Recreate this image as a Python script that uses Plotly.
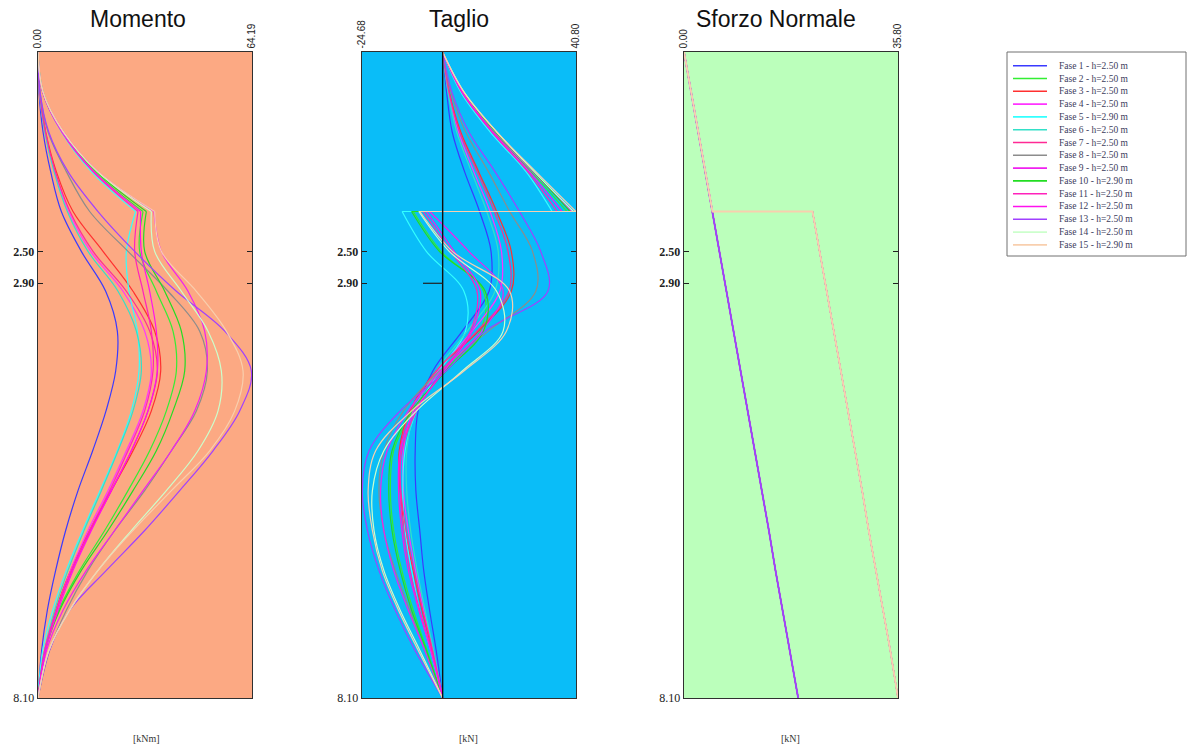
import plotly.graph_objects as go

# ---------------- data ----------------
profondita = [0, 0.5, 1.0, 1.5, 2.0, 2.0, 2.5, 3.0, 3.5, 4.0, 4.5, 5.0, 5.5, 6.0, 6.5, 7.0, 7.5, 8.1]

fasi = ["Fase 1 - h=2.50 m", "Fase 2 - h=2.50 m", "Fase 3 - h=2.50 m", "Fase 4 - h=2.50 m",
        "Fase 5 - h=2.90 m", "Fase 6 - h=2.50 m", "Fase 7 - h=2.50 m", "Fase 8 - h=2.50 m",
        "Fase 9 - h=2.50 m", "Fase 10 - h=2.90 m", "Fase 11 - h=2.50 m", "Fase 12 - h=2.50 m",
        "Fase 13 - h=2.50 m", "Fase 14 - h=2.50 m", "Fase 15 - h=2.90 m"]

colori = ["#3a3aff", "#33ee33", "#ff3030", "#ff33ff", "#33ffff", "#33e0c8", "#ff2a95", "#8c8c8c",
          "#f020f0", "#22dd22", "#ff22bb", "#ff11ee", "#a040ff", "#ccffcc", "#f8cfae"]

fasi_ancorate = [2, 5, 9, 10, 11, 12, 14, 15]

# Momento [kNm]
momento_f01 = [0, 0.3, 1.5, 3.8, 7.0, 7.0, 13.0, 20.3, 23.8, 23.3, 20.4, 16.4, 12.0, 8.3, 5.3, 2.8, 1.1, 0]
momento_f02 = [0, 1.4, 7.2, 17.0, 31.5, 31.5, 30.5, 35.5, 40.5, 41.5, 38.5, 33.5, 27.0, 20.0, 12.5, 6.2, 2.0, 0]
momento_f03 = [0, 0.5, 2.3, 5.5, 10.5, 10.5, 19.5, 28.5, 35.0, 36.8, 34.0, 28.5, 22.0, 15.5, 9.8, 5.3, 2.1, 0]
momento_f04 = [0, 0.4, 2.1, 5.0, 9.2, 9.2, 15.8, 25.5, 32.0, 34.0, 31.5, 26.5, 21.0, 15.0, 9.8, 5.5, 2.1, 0]
momento_f05 = [0, 1.4, 7.0, 16.0, 29.3, 29.3, 26.5, 27.3, 29.8, 30.3, 28.0, 23.8, 18.6, 13.4, 8.5, 4.4, 1.4, 0]
momento_f06 = [0, 0.4, 2.0, 4.8, 8.8, 8.8, 15.0, 24.0, 29.5, 31.0, 28.5, 24.0, 19.0, 13.8, 9.0, 5.0, 2.0, 0]
momento_f07 = [0, 0.45, 2.2, 5.2, 9.6, 9.6, 16.5, 26.5, 33.5, 35.8, 33.0, 28.0, 22.0, 15.8, 10.2, 5.6, 2.2, 0]
momento_f08 = [0, 0.6, 3.0, 8.5, 15.5, 15.5, 27.0, 39.0, 48.5, 50.8, 47.5, 40.0, 32.0, 23.0, 15.0, 8.5, 3.5, 0]
momento_f09 = [0, 1.5, 7.6, 18.0, 34.8, 34.8, 37.0, 45.0, 50.0, 50.5, 47.0, 40.0, 31.5, 23.0, 14.5, 7.5, 2.6, 0]
momento_f10 = [0, 1.5, 7.4, 17.5, 32.5, 32.5, 32.0, 38.0, 43.0, 44.0, 40.5, 35.5, 28.5, 21.0, 13.0, 6.5, 2.2, 0]
momento_f11 = [0, 1.4, 7.1, 16.5, 30.0, 30.0, 29.0, 31.5, 34.0, 34.5, 32.0, 27.0, 21.5, 15.5, 10.0, 5.5, 2.0, 0]
momento_f12 = [0, 1.4, 7.2, 16.8, 30.8, 30.8, 31.0, 33.5, 35.5, 35.8, 33.0, 28.0, 22.0, 16.0, 10.5, 6.0, 2.3, 0]
momento_f13 = [0, 0.6, 3.2, 9.0, 18.0, 18.0, 29.0, 41.5, 56.0, 64.0, 60.5, 52.5, 42.5, 32.0, 20.5, 9.5, 3.5, 0]
momento_f14 = [0, 1.5, 7.5, 17.8, 34.0, 34.0, 35.0, 43.0, 51.0, 55.0, 54.0, 48.0, 38.5, 28.0, 18.0, 9.5, 3.3, 0]
momento_f15 = [0, 1.5, 7.6, 18.0, 35.0, 35.0, 37.0, 47.5, 56.5, 61.5, 59.0, 51.5, 40.0, 28.5, 18.0, 9.4, 3.3, 0]

# Taglio [kN]
taglio_f01 = [0, 1.2, 2.9, 6.7, 11.3, 11.3, 14.8, 14.2, 6.0, -3.0, -7.5, -8.4, -8.2, -7.0, -5.8, -4.0, -2.0, 0]
taglio_f02 = [0, 6.0, 15.5, 27.0, 38.0, -9.0, -0.5, 12.5, 11.5, 0.5, -9.0, -15.0, -16.0, -15.0, -12.5, -9.0, -4.8, 0]
taglio_f03 = [0, 2.0, 5.5, 11.0, 16.5, 16.5, 21.0, 21.0, 11.0, -2.0, -10.0, -13.3, -13.0, -11.5, -9.0, -6.3, -3.2, 0]
taglio_f04 = [0, 1.8, 4.8, 9.5, 14.5, 14.5, 18.0, 17.5, 9.0, -1.5, -9.0, -12.0, -12.0, -10.5, -8.3, -5.8, -3.0, 0]
taglio_f05 = [0, 5.5, 14.5, 25.5, 33.5, -12.4, -5.0, 6.5, 7.0, -1.0, -8.0, -11.5, -12.2, -11.5, -9.5, -7.0, -3.7, 0]
taglio_f06 = [0, 1.6, 4.3, 8.8, 13.5, 13.5, 17.0, 16.0, 7.5, -2.0, -8.5, -11.0, -11.0, -9.8, -7.8, -5.4, -2.8, 0]
taglio_f07 = [0, 1.9, 5.2, 10.5, 15.8, 15.8, 20.0, 20.3, 10.5, -2.0, -9.8, -13.0, -12.8, -11.2, -8.8, -6.1, -3.1, 0]
taglio_f08 = [0, 2.5, 7.0, 14.0, 20.5, 20.5, 27.5, 28.5, 14.0, -1.0, -12.0, -18.0, -19.5, -18.0, -14.5, -10.0, -5.5, 0]
taglio_f09 = [0, 6.2, 16.0, 27.5, 39.5, -4.0, 8.0, 18.5, 12.0, -0.5, -10.5, -17.0, -19.0, -18.0, -15.0, -10.5, -5.5, 0]
taglio_f10 = [0, 6.3, 16.2, 27.8, 39.0, -9.5, -1.0, 13.0, 12.5, 1.0, -9.5, -15.5, -16.5, -15.5, -13.0, -9.5, -5.0, 0]
taglio_f11 = [0, 5.8, 15.0, 26.0, 35.0, -6.0, 2.5, 10.5, 8.5, 0.0, -8.0, -12.5, -13.0, -12.0, -10.0, -7.0, -3.5, 0]
taglio_f12 = [0, 6.0, 15.3, 26.5, 36.5, -5.0, 3.5, 11.5, 9.0, 0.5, -8.5, -13.0, -13.5, -12.5, -10.5, -7.3, -3.7, 0]
taglio_f13 = [0, 2.8, 8.0, 16.0, 23.5, 23.5, 30.0, 32.2, 13.0, 1.0, -13.0, -22.5, -24.6, -23.0, -19.5, -14.5, -8.5, 0]
taglio_f14 = [0, 6.5, 16.5, 28.0, 40.0, -7.3, 2.0, 16.5, 18.5, 6.0, -8.0, -18.0, -21.5, -21.0, -18.0, -13.0, -7.0, 0]
taglio_f15 = [0, 6.5, 16.5, 28.5, 40.8, -7.0, 3.0, 20.5, 19.5, 6.5, -9.5, -20.5, -22.8, -21.5, -18.5, -13.5, -7.5, 0]

# Sforzo Normale [kN]
normale_senza_tirante = [0, 1.19, 2.38, 3.57, 4.77, 4.77, 5.95, 7.12, 8.30, 9.47, 10.6, 11.8, 13.0, 14.2, 15.3, 16.5, 17.7, 19.1]
normale_con_tirante = [0, 1.19, 2.38, 3.57, 4.77, 21.5, 22.7, 23.9, 25.0, 26.2, 27.4, 28.6, 29.8, 30.9, 32.1, 33.3, 34.5, 35.8]

momento = [momento_f01, momento_f02, momento_f03, momento_f04, momento_f05, momento_f06, momento_f07,
           momento_f08, momento_f09, momento_f10, momento_f11, momento_f12, momento_f13, momento_f14, momento_f15]
taglio = [taglio_f01, taglio_f02, taglio_f03, taglio_f04, taglio_f05, taglio_f06, taglio_f07,
          taglio_f08, taglio_f09, taglio_f10, taglio_f11, taglio_f12, taglio_f13, taglio_f14, taglio_f15]

range_momento = [0.0, 64.19]
range_taglio = [-24.68, 40.80]
range_normale = [0.0, 35.80]
tick_prof = [2.5, 2.9, 8.1]
tick_prof_txt = ["<b>2.50</b>", "<b>2.90</b>", "8.10"]

# ---------------- figure ----------------
W, H = 1188, 749
fig = go.Figure()
LW = 1.2


def add_spline(xs, ys, col, xa, ya, name, shape="spline", width=LW):
    fig.add_trace(go.Scatter(x=xs, y=ys, mode="lines", name=name, showlegend=False,
                             line=dict(color=col, width=width, shape=shape),
                             xaxis=xa, yaxis=ya, hoverinfo="x+y+name"))


for i in range(15):
    col = colori[i]
    anch = (i + 1) in fasi_ancorate
    for vals, xa, ya in ((momento[i], "x", "y"), (taglio[i], "x2", "y2")):
        if not anch:
            add_spline(vals[:5] + vals[6:], profondita[:5] + profondita[6:], col, xa, ya, fasi[i])
        else:
            add_spline(vals[:5], profondita[:5], col, xa, ya, fasi[i])
            if vals[4] != vals[5]:
                add_spline(vals[4:6], profondita[4:6], col, xa, ya, fasi[i], shape="linear")
            add_spline(vals[5:], profondita[5:], col, xa, ya, fasi[i])
    nvals = normale_con_tirante if anch else normale_senza_tirante
    nw = 1.8 if (i + 1) in (13, 15) else 1.2
    add_spline(nvals, profondita, col, "x3", "y3", fasi[i], shape="linear", width=nw)

px_x = lambda p: p / W
px_y = lambda p: 1 - p / H

doms = [[px_x(38), px_x(252)], [px_x(362), px_x(576)], [px_x(684), px_x(898)]]
ydom = [px_y(698), px_y(52)]
ranges = [range_momento, range_taglio, range_normale]
top_txt = [["0.00", "64.19"], ["-24.68", "40.80"], ["0.00", "35.80"]]
bgs = ["#fca983", "#0abdf8", "#bbffbb"]

axis_font_top = dict(family="Liberation Sans, Arial", size=10, color="#222")
axis_font_left = dict(family="Liberation Serif, Times New Roman", size=12, color="#222")

lay = dict(width=W, height=H, autosize=False, margin=dict(l=0, r=0, t=0, b=0, pad=0),
           paper_bgcolor="white", plot_bgcolor="rgba(0,0,0,0)", showlegend=False)
shapes = []
annotations = []
for k in range(3):
    sx = "" if k == 0 else str(k + 1)
    lay["xaxis" + sx] = dict(domain=doms[k], range=ranges[k], anchor="y" + sx, side="top",
                             tickvals=ranges[k], ticktext=top_txt[k], tickangle=-90,
                             ticks="", showgrid=False, zeroline=False, showline=True,
                             mirror=True, linecolor="#303030", linewidth=1.4,
                             tickfont=axis_font_top, fixedrange=True, automargin=False)
    lay["yaxis" + sx] = dict(domain=ydom, range=[8.1, 0], anchor="x" + sx,
                             tickvals=tick_prof, ticktext=tick_prof_txt, ticks="inside",
                             ticklen=5, tickcolor="#202020", tickwidth=1.2, mirror="ticks",
                             showgrid=False, zeroline=False, showline=True,
                             linecolor="#303030", linewidth=1.4, tickfont=axis_font_left,
                             fixedrange=True, automargin=False)
    shapes.append(dict(type="rect", xref="x%s domain" % sx, yref="y%s domain" % sx,
                       x0=0, x1=1, y0=0, y1=1, fillcolor=bgs[k], line=dict(width=0),
                       layer="below"))

# zero line and tick in Taglio
shapes.append(dict(type="line", xref="x2", yref="y2 domain", x0=0, x1=0, y0=0, y1=1,
                   line=dict(color="#101010", width=1.4)))
shapes.append(dict(type="line", xref="x2 domain", yref="y2", x0=0.285, x1=0.377, y0=2.9, y1=2.9,
                   line=dict(color="#202020", width=1.2)))

# titles
for txt, cx in (("Momento", 138), ("Taglio", 459), ("Sforzo Normale", 776)):
    annotations.append(dict(text=txt, xref="paper", yref="paper", x=px_x(cx), y=px_y(19),
                            xanchor="center", yanchor="middle", showarrow=False,
                            font=dict(family="Liberation Sans, Arial", size=23, color="#111")))
# unit labels
for txt, cx in (("[kNm]", 146), ("[kN]", 468), ("[kN]", 790)):
    annotations.append(dict(text=txt, xref="paper", yref="paper", x=px_x(cx), y=px_y(738),
                            xanchor="center", yanchor="middle", showarrow=False,
                            font=dict(family="Liberation Serif, Times New Roman", size=10, color="#333")))

# legend box (drawn manually to match compact spacing)
shapes.append(dict(type="rect", xref="paper", yref="paper", x0=px_x(1007), x1=px_x(1186),
                   y0=px_y(256), y1=px_y(52), line=dict(color="#707070", width=1),
                   fillcolor="white"))
for i in range(15):
    yy = px_y(65.7 + 12.8 * i)
    shapes.append(dict(type="line", xref="paper", yref="paper", x0=px_x(1013), x1=px_x(1047),
                       y0=yy, y1=yy, line=dict(color=colori[i], width=1.6)))
    annotations.append(dict(text=fasi[i], xref="paper", yref="paper", x=px_x(1057), y=yy,
                            xanchor="left", yanchor="middle", showarrow=False,
                            font=dict(family="Liberation Serif, Times New Roman", size=9.5,
                                      color="#3c3c5c")))

lay["shapes"] = shapes
lay["annotations"] = annotations
fig.update_layout(**lay)
fig.write_html("out.html", config={"displayModeBar": False, "staticPlot": True},
               post_script="document.body.style.margin='0';document.body.style.overflow='hidden';")
